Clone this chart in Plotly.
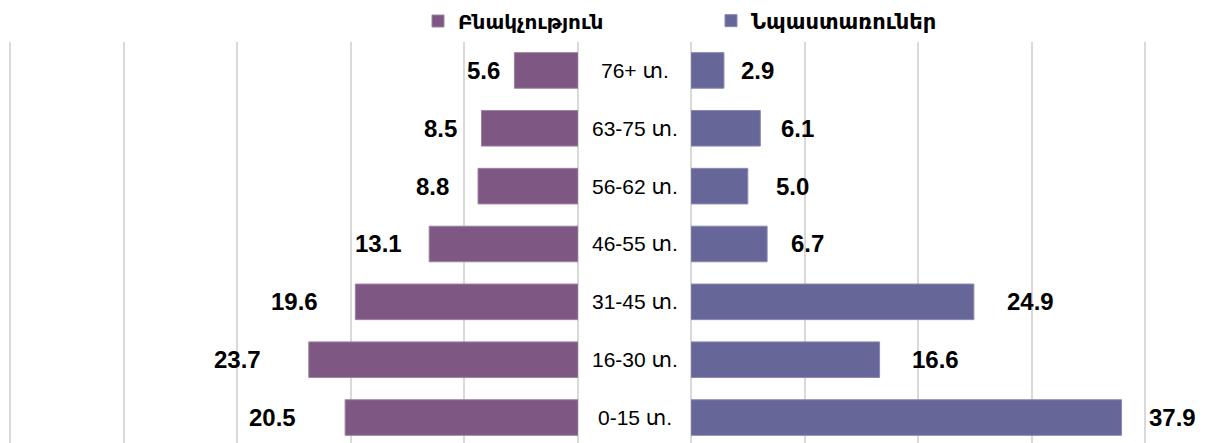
import plotly.graph_objects as go

categories = ["0-15 տ.", "16-30 տ.", "31-45 տ.", "46-55 տ.", "56-62 տ.", "63-75 տ.", "76+ տ."]
population = [20.5, 23.7, 19.6, 13.1, 8.8, 8.5, 5.6]
beneficiaries = [37.9, 16.6, 24.9, 6.7, 5.0, 6.1, 2.9]
series_names = ["Բնակչություն", "Նպաստառուներ"]

# label gaps (px) from bar end, as in the reference
left_gap = [47, 46, 35, 25, 27, 22, 12]
right_gap = [25, 30, 31, 22, 26, 19, 15]

# the page body adds an 8px margin, so the figure is 8px smaller than the window
W, H = 1200, 435
C_LEFT = "#7E5882"
C_RIGHT = "#666699"
FONT = "Liberation Sans, DejaVu Sans, sans-serif"
LFONT = "DejaVu Sans, sans-serif"

px_per_unit = 11.36
left_zero_px = 570
right_zero_px = 683
top_px = 29

fig = go.Figure()
fig.add_trace(go.Bar(
    x=population, y=categories, orientation="h", name=series_names[0],
    marker=dict(color=C_LEFT, line=dict(color="#9C82A0", width=1)),
    xaxis="x", yaxis="y", legend="legend", hoverinfo="x+y",
))
fig.add_trace(go.Bar(
    x=beneficiaries, y=categories, orientation="h", name=series_names[1],
    marker=dict(color=C_RIGHT, line=dict(color="#8888B3", width=1)),
    xaxis="x2", yaxis="y2", legend="legend2", hoverinfo="x+y",
))

annotations = []
for c, v, g in zip(categories, population, left_gap):
    annotations.append(dict(x=v, y=c, xref="x", yref="y", text=f"<b>{v:.1f}</b>",
                            xanchor="right", yanchor="middle", xshift=-g, showarrow=False,
                            font=dict(family=FONT, size=24, color="#000000")))
for c, v, g in zip(categories, beneficiaries, right_gap):
    annotations.append(dict(x=v, y=c, xref="x2", yref="y2", text=f"<b>{v:.1f}</b>",
                            xanchor="left", yanchor="middle", xshift=g, showarrow=False,
                            font=dict(family=FONT, size=24, color="#000000")))
mid = (left_zero_px + right_zero_px) / 2 / W
for c in categories:
    annotations.append(dict(x=mid, y=c, xref="paper", yref="y", text=c,
                            xanchor="center", yanchor="middle", showarrow=False,
                            font=dict(family=FONT, size=21, color="#000000")))

grid = dict(showgrid=True, gridcolor="#D9D9D9", gridwidth=1.5, dtick=10, tick0=0,
            showticklabels=False, zeroline=True, zerolinecolor="#D9D9D9", zerolinewidth=1.5,
            showline=False, ticks="", fixedrange=True)

yrange = [-0.44, 6.5]
legend_y = 1 - 13 / H
fig.update_layout(
    width=W, height=H,
    margin=dict(l=0, r=0, t=top_px, b=0),
    paper_bgcolor="white", plot_bgcolor="white",
    bargap=0.385,
    xaxis=dict(domain=[0, left_zero_px / W], range=[left_zero_px / px_per_unit, 0], **grid),
    xaxis2=dict(domain=[right_zero_px / W, 1], range=[0, (W - right_zero_px) / px_per_unit], **grid),
    yaxis=dict(range=yrange, categoryorder="array", categoryarray=categories,
               showticklabels=False, showgrid=False, zeroline=False, fixedrange=True),
    yaxis2=dict(range=yrange, categoryorder="array", categoryarray=categories, anchor="x2",
                matches="y", showticklabels=False, showgrid=False, zeroline=False, fixedrange=True),
    legend=dict(orientation="h", x=410 / W, xanchor="left", y=legend_y, yref="container",
                yanchor="middle",
                font=dict(family=LFONT, size=20, color="#000000", weight="bold"),
                itemwidth=30, bgcolor="rgba(0,0,0,0)"),
    legend2=dict(orientation="h", x=703 / W, xanchor="left", y=legend_y, yref="container",
                 yanchor="middle",
                 font=dict(family=LFONT, size=21, color="#000000", weight="bold"),
                 itemwidth=30, bgcolor="rgba(0,0,0,0)"),
    annotations=annotations,
    showlegend=True,
)

fig.write_html("out.html")
